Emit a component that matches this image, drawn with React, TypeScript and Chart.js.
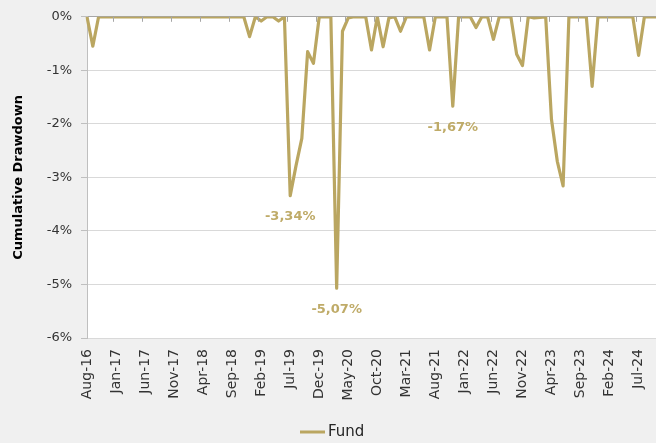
import { useEffect, useRef } from 'react';
import { Chart, registerables } from 'chart.js';

Chart.register(...registerables);

const months = [
  'Aug-16', 'Sep-16', 'Oct-16', 'Nov-16', 'Dec-16',
  'Jan-17', 'Feb-17', 'Mar-17', 'Apr-17', 'May-17', 'Jun-17', 'Jul-17', 'Aug-17', 'Sep-17', 'Oct-17', 'Nov-17', 'Dec-17',
  'Jan-18', 'Feb-18', 'Mar-18', 'Apr-18', 'May-18', 'Jun-18', 'Jul-18', 'Aug-18', 'Sep-18', 'Oct-18', 'Nov-18', 'Dec-18',
  'Jan-19', 'Feb-19', 'Mar-19', 'Apr-19', 'May-19', 'Jun-19', 'Jul-19', 'Aug-19', 'Sep-19', 'Oct-19', 'Nov-19', 'Dec-19',
  'Jan-20', 'Feb-20', 'Mar-20', 'Apr-20', 'May-20', 'Jun-20', 'Jul-20', 'Aug-20', 'Sep-20', 'Oct-20', 'Nov-20', 'Dec-20',
  'Jan-21', 'Feb-21', 'Mar-21', 'Apr-21', 'May-21', 'Jun-21', 'Jul-21', 'Aug-21', 'Sep-21', 'Oct-21', 'Nov-21', 'Dec-21',
  'Jan-22', 'Feb-22', 'Mar-22', 'Apr-22', 'May-22', 'Jun-22', 'Jul-22', 'Aug-22', 'Sep-22', 'Oct-22', 'Nov-22', 'Dec-22',
  'Jan-23', 'Feb-23', 'Mar-23', 'Apr-23', 'May-23', 'Jun-23', 'Jul-23', 'Aug-23', 'Sep-23', 'Oct-23', 'Nov-23', 'Dec-23',
  'Jan-24', 'Feb-24', 'Mar-24', 'Apr-24', 'May-24', 'Jun-24', 'Jul-24', 'Aug-24', 'Sep-24', 'Oct-24',
];

const fund = [
  0, -0.55, 0, 0, 0,
  0, 0, 0, 0, 0, 0, 0, 0, 0, 0, 0, 0,
  0, 0, 0, 0, 0, 0, 0, 0, 0, 0, 0, -0.37,
  0, -0.08, 0, 0, -0.08, 0, -3.34, -2.78, -2.27, -0.65, -0.87, 0,
  0, 0, -5.07, -0.27, -0.02, 0, 0, 0, -0.62, 0, -0.56, -0.02,
  0, -0.27, 0, 0, 0, 0, -0.62, 0, 0, 0, -1.67, 0,
  0, 0, -0.2, 0, 0, -0.42, 0, 0, 0, -0.7, -0.91, 0,
  -0.02, -0.01, 0, -1.92, -2.7, -3.16, 0, 0, 0, 0, -1.3, 0,
  0, 0, 0, 0, 0, 0, -0.72, 0, 0, 0,
];

const seriesName = 'Fund';
const annotatedMonths = ['Jul-19', 'Mar-20', 'Nov-21'];
const yMin = -6;
const yMax = 0;
const labelEvery = 5;

const GOLD = '#BAA661';
const FONT = '"DejaVu Sans", sans-serif';

export default function App() {
  const ref = useRef<HTMLCanvasElement | null>(null);

  useEffect(() => {
    document.body.style.margin = '0';
    const canvas = ref.current;
    if (!canvas) return;

    const bgPlugin = {
      id: 'bg',
      beforeDraw(chart: any) {
        const { ctx, chartArea } = chart;
        ctx.save();
        ctx.fillStyle = '#F0F0F0';
        ctx.fillRect(0, 0, chart.width, chart.height);
        ctx.fillStyle = '#FFFFFF';
        ctx.fillRect(chartArea.left, chartArea.top, chartArea.right - chartArea.left, chartArea.bottom - chartArea.top);
        ctx.restore();
      },
    };

    const topTicks = {
      id: 'topTicks',
      afterDatasetsDraw(chart: any) {
        const { ctx, chartArea } = chart;
        const xs = chart.scales.x;
        ctx.save();
        ctx.strokeStyle = '#A6A6A6';
        ctx.lineWidth = 1;
        for (let i = labelEvery; i < months.length; i += labelEvery) {
          const x = Math.round((xs.getPixelForValue(i - 1) + xs.getPixelForValue(i)) / 2) + 0.5;
          ctx.beginPath();
          ctx.moveTo(x, chartArea.top);
          ctx.lineTo(x, chartArea.top + 5);
          ctx.stroke();
        }
        ctx.restore();
      },
    };

    const valueLabels = {
      id: 'valueLabels',
      afterDatasetsDraw(chart: any) {
        const { ctx } = chart;
        const meta = chart.getDatasetMeta(0);
        ctx.save();
        ctx.fillStyle = '#BFAB68';
        ctx.font = 'bold 13px ' + FONT;
        ctx.textAlign = 'center';
        ctx.textBaseline = 'middle';
        annotatedMonths.forEach((m) => {
          const idx = months.indexOf(m);
          const pt = meta.data[idx];
          const txt = fund[idx].toFixed(2).replace('.', ',') + '%';
          ctx.fillText(txt, pt.x, pt.y + 21);
        });
        ctx.restore();
      },
    };

    const bottomLegend = {
      id: 'bottomLegend',
      afterDraw(chart: any) {
        const { ctx } = chart;
        ctx.save();
        ctx.font = '15px ' + FONT;
        const tw = ctx.measureText(seriesName).width;
        const lineW = 25;
        const gap = 3;
        const total = lineW + gap + tw;
        const x0 = Math.round(chart.width / 2 - total / 2 + 4);
        const y = 432;
        ctx.strokeStyle = GOLD;
        ctx.lineWidth = 3;
        ctx.beginPath();
        ctx.moveTo(x0, y);
        ctx.lineTo(x0 + lineW, y);
        ctx.stroke();
        ctx.fillStyle = '#262626';
        ctx.textAlign = 'left';
        ctx.textBaseline = 'middle';
        ctx.fillText(seriesName, x0 + lineW + gap, y);
        ctx.restore();
      },
    };

    const chart = new Chart(canvas, {
      type: 'line',
      data: {
        labels: months,
        datasets: [
          {
            label: seriesName,
            data: fund,
            borderColor: GOLD,
            backgroundColor: GOLD,
            borderWidth: 3.2,
            pointRadius: 0,
            tension: 0,
            borderJoinStyle: 'round',
          },
        ],
      },
      options: {
        responsive: false,
        animation: false,
        layout: { padding: { top: 15, right: 0, bottom: 0, left: 0 } },
        plugins: {
          legend: { display: false },
          tooltip: { enabled: false },
        },
        scales: {
          x: {
            type: 'category',
            offset: false,
            grid: { display: false, drawTicks: false },
            border: { display: false },
            ticks: {
              autoSkip: false,
              maxRotation: 90,
              minRotation: 90,
              padding: 11,
              color: '#333333',
              font: { family: FONT, size: 14 },
              callback: (_v: any, i: number) => (i % labelEvery === 0 ? months[i] : ''),
            },
            afterFit(scale: any) {
              scale.height = 105;
              scale.paddingRight = 0;
              scale.paddingLeft = 0;
            },
          },
          y: {
            min: yMin,
            max: yMax,
            ticks: {
              stepSize: 1,
              padding: 9,
              color: '#333333',
              font: { family: FONT, size: 13 },
              callback: (v: any) => v + '%',
            },
            grid: {
              color: (c: any) => (c.tick && c.tick.value === 0 ? '#A6A6A6' : '#D9D9D9'),
              tickColor: '#BFBFBF',
              tickLength: 6,
            },
            border: { display: true, color: '#BFBFBF', width: 1 },
            title: {
              display: true,
              text: 'Cumulative Drawdown',
              color: '#000000',
              font: { family: FONT, size: 13, weight: 'bold' },
              padding: { top: 11, bottom: 0 },
            },
            afterFit(scale: any) {
              scale.width = 87;
            },
          },
        },
      },
      plugins: [bgPlugin, topTicks, valueLabels, bottomLegend],
    });

    return () => chart.destroy();
  }, []);

  return (
    <div style={{ width: 656, height: 443 }}>
      <canvas ref={ref} width={656} height={443} />
    </div>
  );
}
